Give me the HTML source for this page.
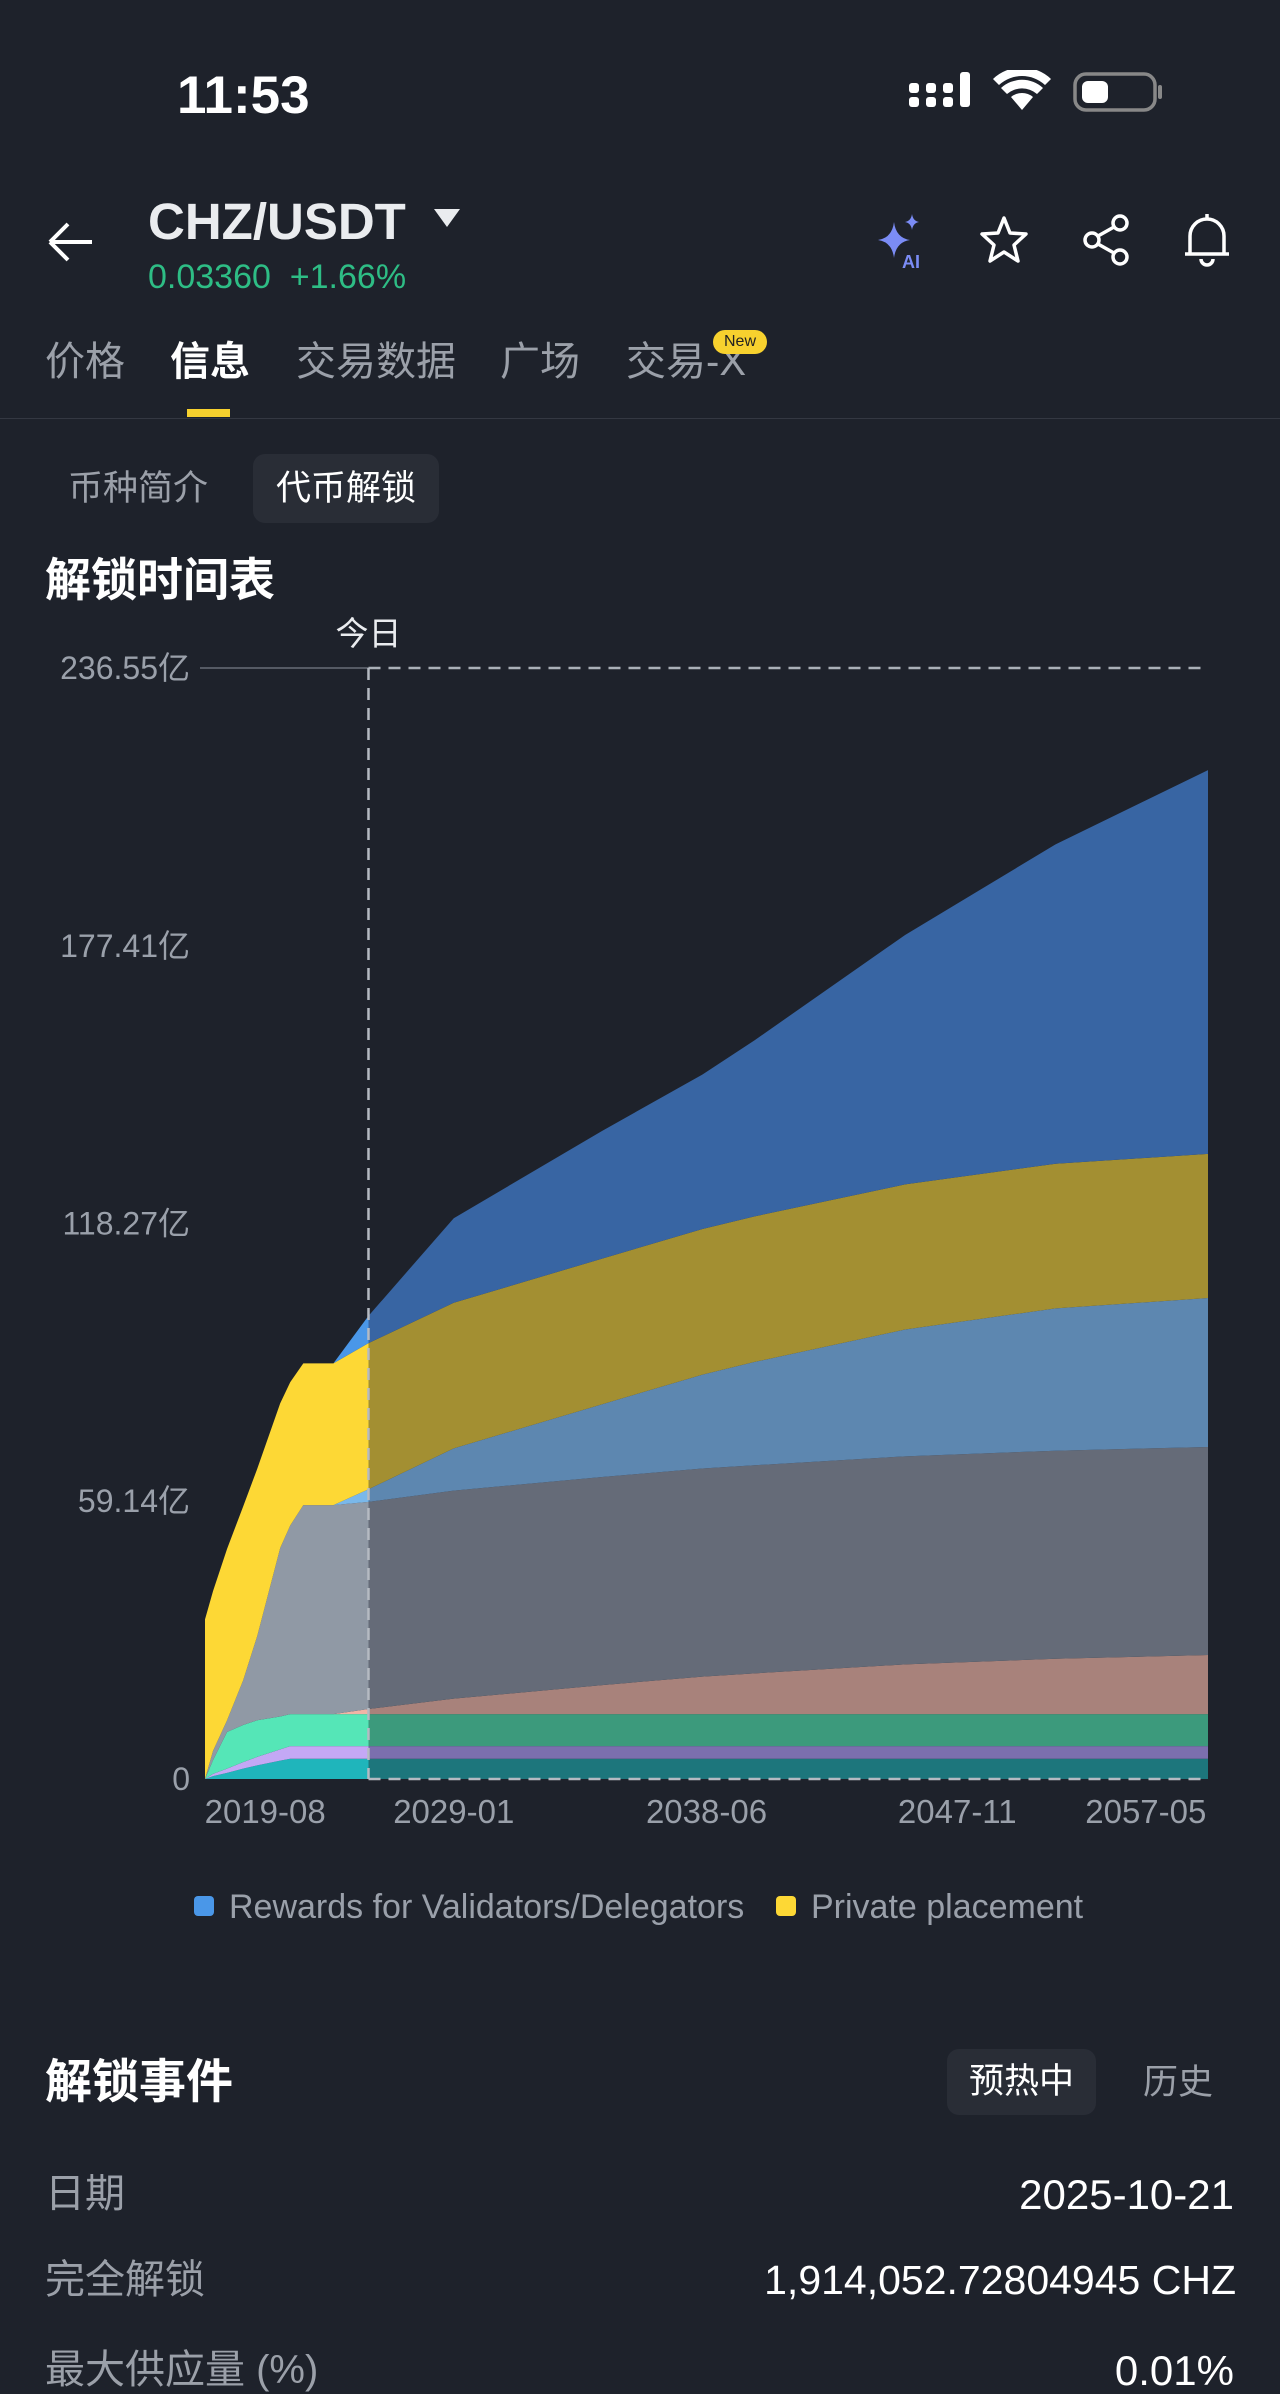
<!DOCTYPE html>
<html><head><meta charset="utf-8">
<style>
body{margin:0;width:1280px;height:2363px;background:#1e222b;overflow:hidden;position:relative;font-family:"Liberation Sans","Noto Sans CJK SC",sans-serif;color:#eaecef}
.a{position:absolute;white-space:nowrap;line-height:1}
.g{color:#9ba0a9}
</style></head><body>
<div class="a" style="left:177px;top:69px;font-size:53px;font-weight:bold;color:#fff">11:53</div>
<svg class="a" style="left:900px;top:70px" width="270" height="50">
<g fill="#fff">
<rect x="9" y="27" width="10" height="10" rx="3"/><rect x="9" y="13" width="10" height="10" rx="3"/>
<rect x="26" y="27" width="10" height="10" rx="3"/><rect x="26" y="13" width="10" height="10" rx="3"/>
<rect x="43" y="27" width="10" height="10" rx="3"/><rect x="43" y="13" width="10" height="10" rx="3"/>
<rect x="60" y="2" width="10" height="35" rx="3"/>
<path d="M122 40 L111 27 A17 17 0 0 1 133 27 Z"/><path d="M101 18 A31 31 0 0 1 143 18 L137 24 A23 23 0 0 0 107 24Z"/><path d="M93 9 A42 42 0 0 1 151 9 L145 15 A34 34 0 0 0 99 15Z"/>
<rect x="175" y="4" width="80" height="36" rx="11" fill="none" stroke="#888" stroke-width="3.5"/><rect x="182" y="11" width="26" height="22" rx="6"/><rect x="258" y="15" width="4" height="14" rx="2" fill="#888"/></g></svg>
<svg class="a" style="left:46px;top:220px" width="52" height="44"><path d="M4 22 H46 M4 22 L22 4 M4 22 L22 40" stroke="#fff" stroke-width="4" fill="none"/></svg>
<div class="a" style="left:148px;top:196px;font-size:51px;font-weight:bold;color:#eaecef">CHZ/USDT</div>
<svg class="a" style="left:434px;top:209px" width="26" height="20"><path d="M0 0 H26 L13 18Z" fill="#eaecef"/></svg>
<div class="a" style="left:148px;top:260px;font-size:34px;color:#2ebd85">0.03360&nbsp; +1.66%</div>
<svg class="a" style="left:872px;top:212px" width="60" height="60"><path d="M22 10 Q24 26 38 28 Q24 30 22 46 Q20 30 6 28 Q20 26 22 10Z" fill="#7b8cf5"/><path d="M40 2 Q41 9 47 10 Q41 11 40 18 Q39 11 33 10 Q39 9 40 2Z" fill="#7b8cf5"/><text x="30" y="56" font-size="18" font-weight="bold" fill="#7b8cf5" font-family="Liberation Sans">AI</text></svg>
<svg class="a" style="left:978px;top:214px" width="52" height="52"><path d="M26 4 L32 19 L48 20 L36 31 L40 47 L26 38 L12 47 L16 31 L4 20 L20 19Z" stroke="#fff" stroke-width="3.5" fill="none" stroke-linejoin="round"/></svg>
<svg class="a" style="left:1080px;top:212px" width="54" height="56"><g stroke="#fff" stroke-width="3.5" fill="none"><circle cx="40" cy="11" r="7"/><circle cx="12" cy="28" r="7"/><circle cx="40" cy="45" r="7"/><path d="M18 24 L34 15 M18 32 L34 41"/></g></svg>
<svg class="a" style="left:1182px;top:210px" width="50" height="60"><g stroke="#fff" stroke-width="3.5" fill="none"><path d="M8 44 V26 A17 17 0 0 1 42 26 V44 Z M3 44 H47"/><path d="M19 49 A6 6 0 0 0 31 49"/><path d="M25 4 V9"/></g></svg>
<div class="a g" style="left:45px;top:342px;font-size:40px">价格</div>
<div class="a" style="left:170px;top:342px;font-size:40px;font-weight:bold;color:#fff">信息</div>
<div class="a g" style="left:296px;top:342px;font-size:40px">交易数据</div>
<div class="a g" style="left:500px;top:342px;font-size:40px">广场</div>
<div class="a g" style="left:626px;top:342px;font-size:40px">交易-X</div>
<div class="a" style="left:713px;top:330px;width:54px;height:24px;border-radius:12px;background:#f7d12e;color:#222;font-size:16px;text-align:center;line-height:24px">New</div>
<div class="a" style="left:187px;top:409px;width:43px;height:8px;background:#f7d12e"></div>
<div class="a" style="left:0;top:418px;width:1280px;height:1px;background:#343842"></div>
<div class="a g" style="left:68px;top:471px;font-size:35px">币种简介</div>
<div class="a" style="left:253px;top:454px;width:186px;height:69px;border-radius:12px;background:#292d36;font-size:35px;color:#fff;text-align:center;line-height:69px">代币解锁</div>
<div class="a" style="left:45px;top:557px;font-size:46px;font-weight:bold;color:#fff">解锁时间表</div>

<svg class="a" id="chart" style="left:0;top:600px" width="1280" height="1340">
<g id="plot" transform="translate(0,-600)"></g>
</svg>

<div class="a" style="left:45px;top:2058px;font-size:47px;font-weight:bold;color:#fff">解锁事件</div>
<div class="a" style="left:947px;top:2049px;width:149px;height:66px;border-radius:12px;background:#292d36;font-size:35px;color:#fff;text-align:center;line-height:66px">预热中</div>
<div class="a g" style="left:1143px;top:2065px;font-size:35px">历史</div>
<div class="a g" style="left:45px;top:2174px;font-size:40px">日期</div>
<div class="a" style="right:46px;top:2174px;font-size:42px;color:#fff">2025-10-21</div>
<div class="a g" style="left:45px;top:2260px;font-size:40px">完全解锁</div>
<div class="a" style="right:44px;top:2260px;font-size:41px;color:#fff">1,914,052.72804945 CHZ</div>
<div class="a g" style="left:45px;top:2350px;font-size:40px">最大供应量 (%)</div>
<div class="a" style="right:46px;top:2350px;font-size:42px;color:#fff">0.01%</div>

<script>
const years=[2016.6,2017.0,2017.7,2018.5,2019.2,2020.35,2020.85,2021.5,2023.0,2024.75,2029,2036.4,2041.4,2044,2051.5,2059,2066.6];
const teal=[0,0.6,1.3,2.2,2.9,3.9,4.3,4.3,4.3,4.3,4.3,4.3,4.3,4.3,4.3,4.3,4.3];
const purple=[0,0.5,0.9,1.4,1.8,2.4,2.7,2.7,2.7,2.7,2.7,2.7,2.7,2.7,2.7,2.7,2.7];
const green=[0,2.9,7.8,7.9,7.8,7.0,6.8,6.8,6.8,6.8,6.8,6.8,6.8,6.8,6.8,6.8,6.8];
const salmon=[0,0,0,0,0,0,0,0,0,1.1,3.3,6.2,8,8.7,10.6,11.8,12.6];
const gray=[0,2,2.5,9.5,17.9,35.9,40.2,44.5,44.5,44.1,44.3,44.3,44.3,44.3,44.3,44.3,44.3];
const lightBlue=[0,0,0,0,0,0,0,0,0,2.7,9,15.5,20,22,27,30.3,31.7];
const privatePlacement=[34,34,36.5,37,35.6,30.8,30.5,30.2,30.2,31.1,31,31,31,31,30.9,30.8,30.7];
const validatorRewards=[0,0,0,0,0,0,0,0,0,5.8,18,27.2,32.9,37.5,53.1,68,81.7];
const yTicks=[0,59.14,118.27,177.41,236.55];
const yTickLabels=["0","59.14亿","118.27亿","177.41亿","236.55亿"];
const xTicks=[2019.6,2029.0,2041.6,2054.1,2063.5];
const xTickLabels=["2019-08","2029-01","2038-06","2047-11","2057-05"];
const todayYear=2024.75;
const yMax=236.55;

const X0=205,X1=1208,Y0=1779,YT=668;
const xs=y=>X0+(y-years[0])/(years[years.length-1]-years[0])*(X1-X0);
const ys=v=>Y0-v/yMax*(Y0-YT);
const NS="http://www.w3.org/2000/svg";
const plot=document.getElementById('plot');
function mk(tag,attrs){const e=document.createElementNS(NS,tag);for(const k in attrs)e.setAttribute(k,attrs[k]);plot.appendChild(e);return e;}
const tx=xs(todayYear);
const defs=mk('defs',{});
defs.innerHTML='<clipPath id="cpast"><rect x="0" y="0" width="'+tx+'" height="3000"/></clipPath><clipPath id="cfut"><rect x="'+tx+'" y="0" width="2000" height="3000"/></clipPath>';
const series=[
 {name:'area-team-teal',v:teal,p:'#1fb5bb',f:'#1d767c'},
 {name:'area-purple',v:purple,p:'#c4a8f5',f:'#7b6fae'},
 {name:'area-green',v:green,p:'#55e6b7',f:'#3c9a7c'},
 {name:'area-salmon',v:salmon,p:'#f1b5a6',f:'#a8827b'},
 {name:'area-gray',v:gray,p:'#9099a5',f:'#656b78'},
 {name:'area-light-blue',v:lightBlue,p:'#7ab8ea',f:'#5d87b0'},
 {name:'area-private-placement',v:privatePlacement,p:'#fdd835',f:'#a38f32'},
 {name:'area-validator-rewards',v:validatorRewards,p:'#4a97e8',f:'#3865a3'}];
let base=years.map(()=>0);
series.forEach(s=>{
  const top=base.map((b,i)=>b+s.v[i]);
  let d='M'+years.map((y,i)=>xs(y)+','+ys(top[i])).join(' L');
  for(let i=years.length-1;i>=0;i--)d+=' L'+xs(years[i])+','+ys(base[i]);
  d+='Z';
  const a=mk('path',{d:d,fill:s.p,'clip-path':'url(#cpast)'});
  
  
  const b=mk('path',{d:d,fill:s.f,'clip-path':'url(#cfut)'});
  
  
  base=top;
});
yTicks.forEach((v,i)=>{
  const t=mk('text',{x:190,y:ys(v)+11,'text-anchor':'end','font-size':32,fill:'#9aa0aa'});
  t.textContent=yTickLabels[i];
  
  
});
const topLine=mk('line',{x1:200,x2:tx,y1:ys(yMax),y2:ys(yMax),stroke:'#555a64','stroke-width':2});


const topDash=mk('line',{x1:tx,x2:X1,y1:ys(yMax),y2:ys(yMax),stroke:'#aab0b8','stroke-width':2.5,'stroke-dasharray':'12 8'});


const vline=mk('line',{x1:tx,x2:tx,y1:ys(yMax),y2:Y0,stroke:'#b5bac2','stroke-width':2.5,'stroke-dasharray':'12 8'});


const bline=mk('line',{x1:tx,x2:X1,y1:Y0,y2:Y0,stroke:'#b5bac2','stroke-width':2.5,'stroke-dasharray':'12 8'});


const today=mk('text',{x:tx,y:645,'text-anchor':'middle','font-size':33,fill:'#eaecef'});
today.textContent='今日';


xTicks.forEach((v,i)=>{
  const t=mk('text',{x:xs(v),y:1823,'text-anchor':'middle','font-size':33,fill:'#9aa0aa'});
  t.textContent=xTickLabels[i];
  
  
});
const legend=[{x:204,c:'#4a97e8',t:'Rewards for Validators/Delegators'},{x:786,c:'#fdd835',t:'Private placement'}];
legend.forEach(l=>{
  const r=mk('rect',{x:l.x-10,y:1896,width:20,height:20,rx:4,fill:l.c});
  
  
  const t=mk('text',{x:l.x+25,y:1918,'font-size':34,fill:'#9aa0aa'});
  t.textContent=l.t;
  
  
});
</script>
</body></html>
